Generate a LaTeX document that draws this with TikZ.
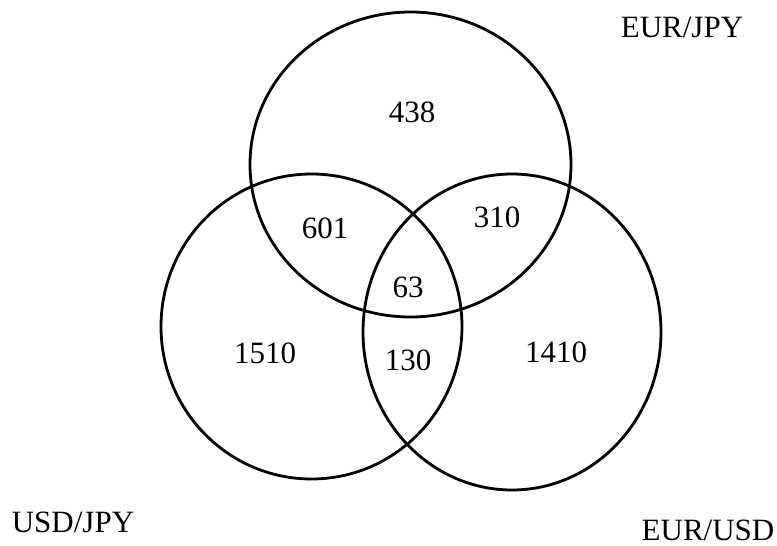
\documentclass[tikz,border=0pt]{standalone}
\usepackage{fontspec}
\setmainfont{Liberation Serif}
\begin{document}
\begin{tikzpicture}[x=1pt,y=-1pt,
  ring/.style={draw=black,line width=2.8pt},
  lbl/.style={font=\fontsize{31}{37}\selectfont,inner sep=0pt}]
\useasboundingbox (0,0) rectangle (777,546);
\draw[ring] (410.5,164.5) ellipse [x radius=160.5,y radius=152.5];
\draw[ring] (311.5,326.5) ellipse [x radius=150.5,y radius=152.5];
\draw[ring] (512,332) ellipse [x radius=149,y radius=158];
\node[lbl] (n438) at (412,112) {438};
\node[lbl] (n601) at (325,228) {601};
\node[lbl] (n310) at (497,217) {310};
\node[lbl] (n63) at (408,287) {63};
\node[lbl] (n1510) at (265,353) {1510};
\node[lbl] (n130) at (408,360) {130};
\node[lbl] (n1410) at (556,352) {1410};
\node[lbl] (ej) at (682,27) {EUR/JPY};
\node[lbl] (uj) at (73,522) {USD/JPY};
\node[lbl] (eu) at (708,530) {EUR/USD};
\end{tikzpicture}
\end{document}
